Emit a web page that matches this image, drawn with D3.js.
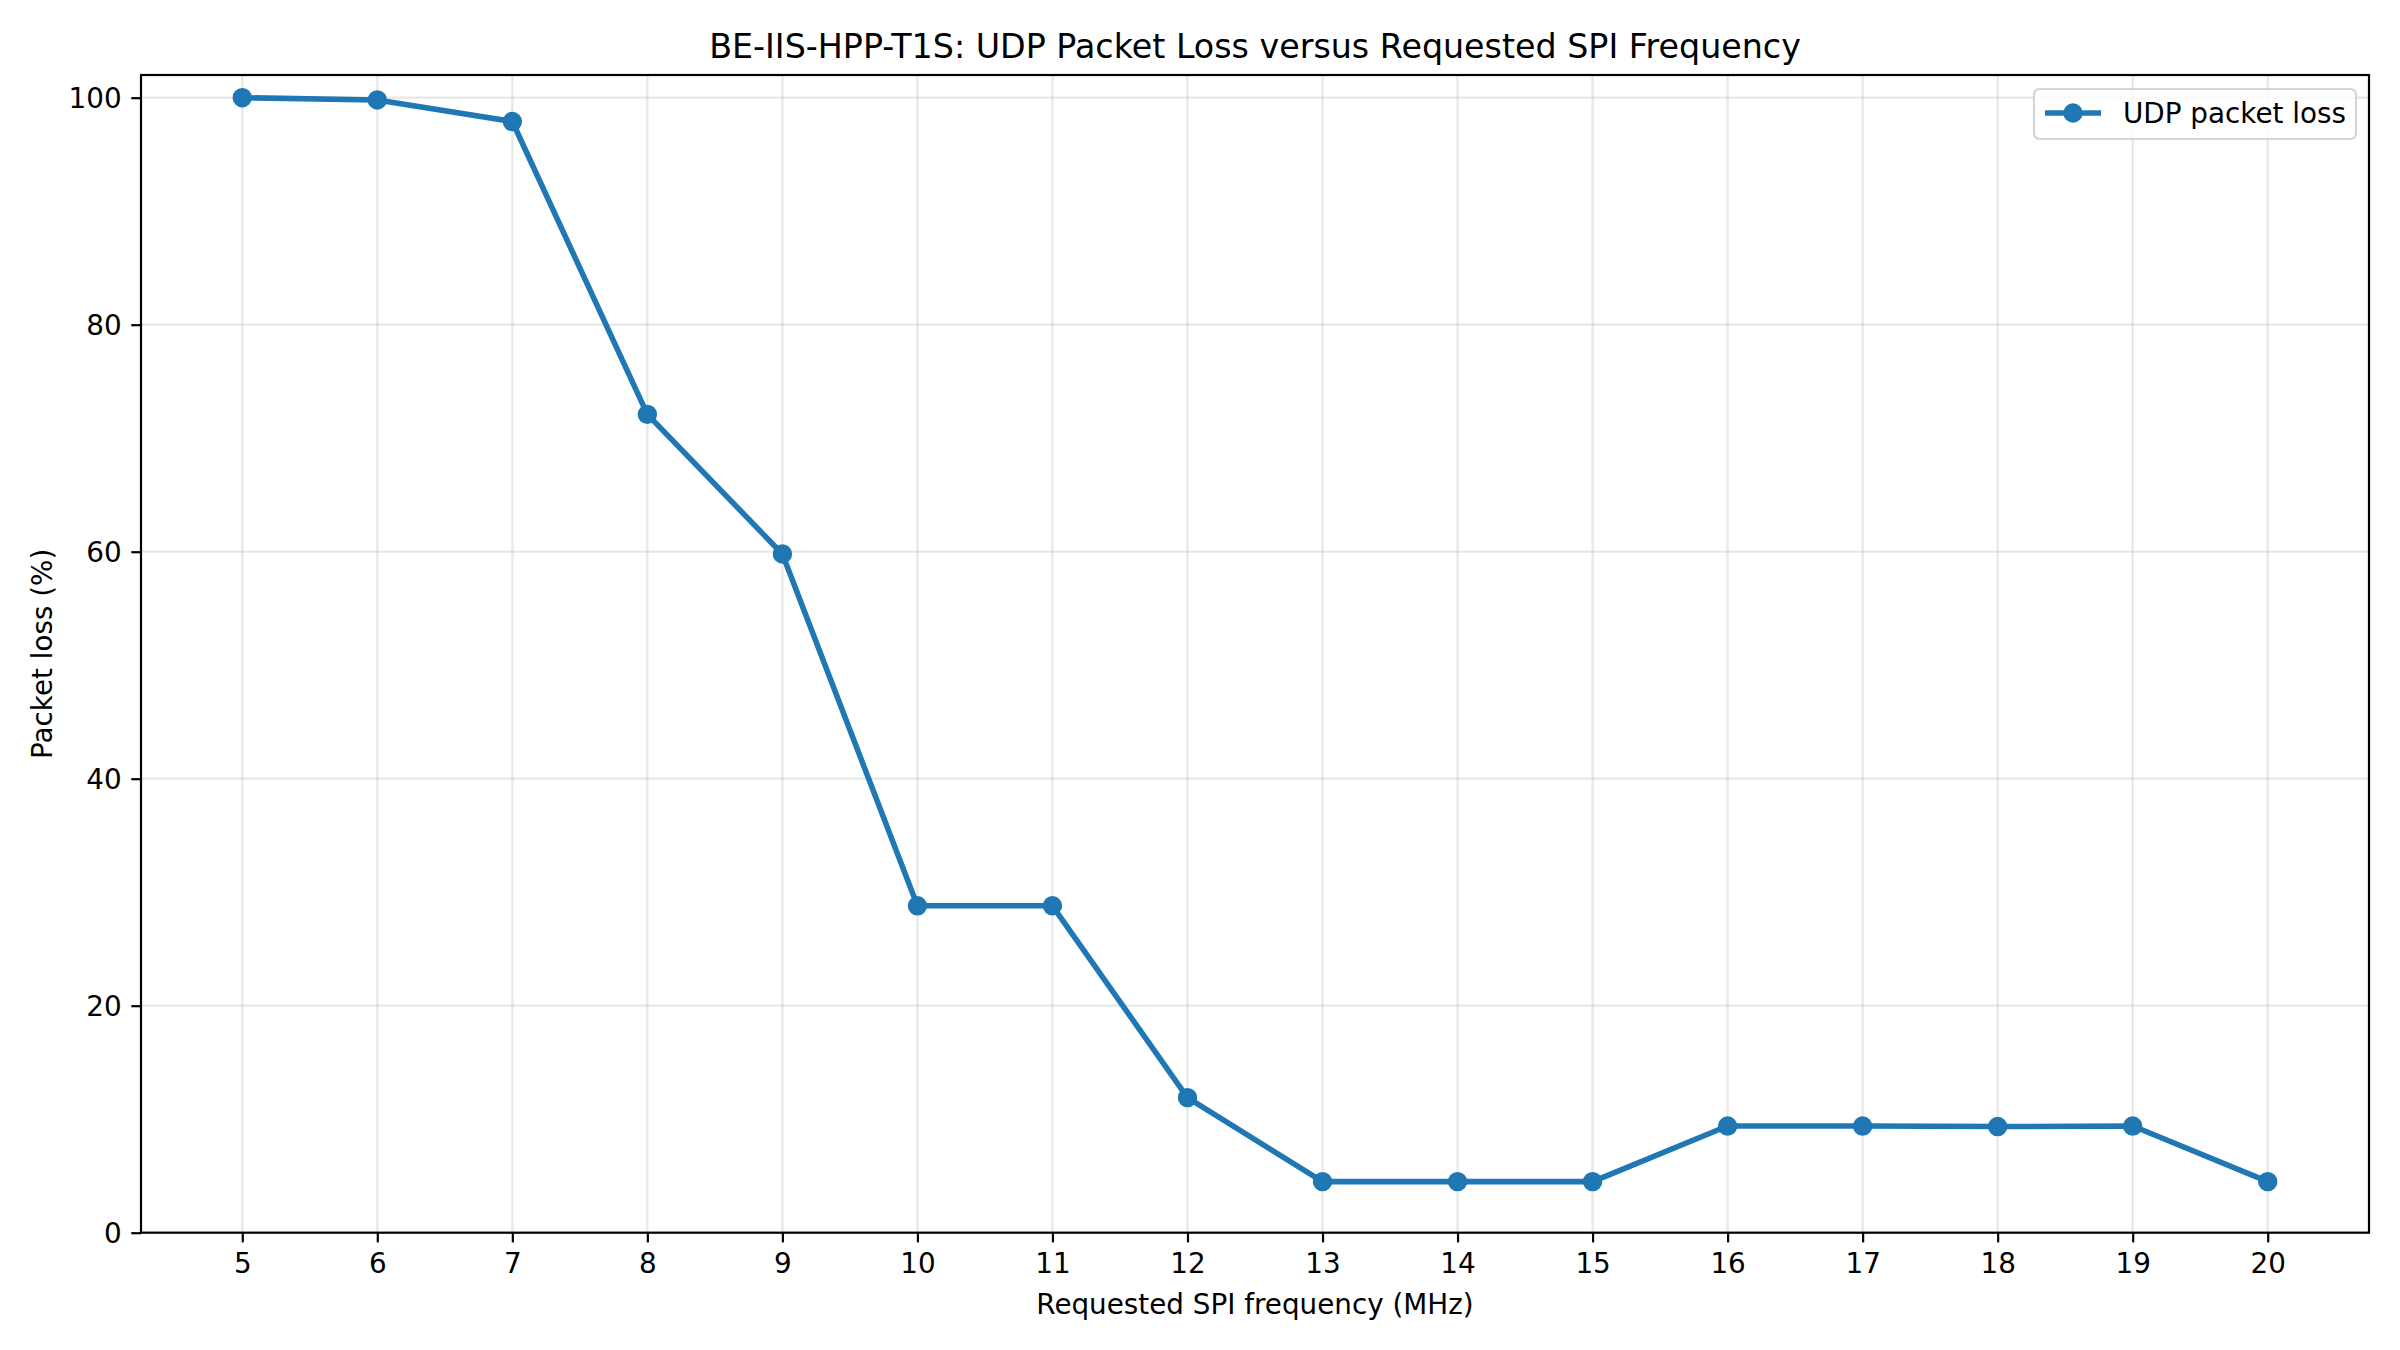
<!DOCTYPE html>
<html>
<head>
<meta charset="utf-8">
<script src="https://cdn.jsdelivr.net/npm/d3@7"></script>
<style>
  body { margin: 0; background: #fff; }
  svg { font-family: "DejaVu Sans", sans-serif; }
</style>
</head>
<body>
<svg></svg>
<script>

// Data
var freqs = [5, 6, 7, 8, 9, 10, 11, 12, 13, 14, 15, 16, 17, 18, 19, 20];
var loss = [100, 99.8, 97.9, 72.1, 59.8, 28.8, 28.8, 11.9, 4.5, 4.5, 4.5, 9.4, 9.4, 9.35, 9.4, 4.5];
var yTicks = [0, 20, 40, 60, 80, 100];
var seriesName = "UDP packet loss";

let width = 2400, height = 1350;
let svg = d3.select("svg")
    .attr("width", width)
    .attr("height", height)
    .attr("viewBox", "0 0 " + width + " " + height);

// plot area (names avoid window.top)
let pLeft = 141, pRight = 2369, pTop = 75, pBottom = 1232.7;
let blue = "#1f77b4";
let fs = 27.8;

var x = d3.scaleLinear().domain([4.25, 20.75]).range([pLeft, pRight]);
var y = d3.scaleLinear().domain([0, 102]).range([pBottom, pTop]);

var data = freqs.map((f, i) => ({ f: f, v: loss[i] }));

// grid
svg.append("g")
    .selectAll("line")
    .data(freqs)
    .enter()
    .append("line")
      .attr("x1", d => x(d)).attr("x2", d => x(d))
      .attr("y1", pTop).attr("y2", pBottom)
      .attr("stroke", "#b0b0b0").attr("stroke-opacity", 0.3)
      .attr("stroke-width", 2.2);

svg.append("g")
    .selectAll("line")
    .data(yTicks)
    .enter()
    .append("line")
      .attr("x1", pLeft).attr("x2", pRight)
      .attr("y1", d => y(d)).attr("y2", d => y(d))
      .attr("stroke", "#b0b0b0").attr("stroke-opacity", 0.3)
      .attr("stroke-width", 2.2);

// line + markers
let line = d3.line()
    .x(d => x(d.f))
    .y(d => y(d.v));

svg.append("path")
    .datum(data)
    .attr("d", line)
    .attr("fill", "none")
    .attr("stroke", blue)
    .attr("stroke-width", 5.56)
    .attr("stroke-linejoin", "round")
    .attr("stroke-linecap", "square");

svg.append("g")
    .selectAll("circle")
    .data(data)
    .enter()
    .append("circle")
      .attr("cx", d => x(d.f))
      .attr("cy", d => y(d.v))
      .attr("r", 8.33)
      .attr("fill", blue)
      .attr("stroke", blue)
      .attr("stroke-width", 2.78);

// axes
let xAxis = d3.axisBottom(x)
    .tickValues(freqs)
    .tickFormat(d3.format("d"))
    .tickSize(9.7)
    .tickPadding(9.7);

let yAxis = d3.axisLeft(y)
    .tickValues(yTicks)
    .tickFormat(d3.format("d"))
    .tickSize(9.7)
    .tickPadding(9.7);

let gx = svg.append("g")
    .attr("transform", "translate(0," + pBottom + ")")
    .call(xAxis);
let gy = svg.append("g")
    .attr("transform", "translate(" + pLeft + ",0)")
    .call(yAxis);

[gx, gy].forEach(g => {
  g.select(".domain").remove();
  g.selectAll(".tick line").attr("stroke", "#000").attr("stroke-width", 2.2);
  g.selectAll(".tick text")
    .attr("fill", "#000")
    .style("font-family", "DejaVu Sans")
    .style("font-size", fs + "px");
});
gx.selectAll(".tick text").attr("dy", "0.76em");
gy.selectAll(".tick text").attr("dy", "0.36em");

// spines
svg.append("rect")
    .attr("x", pLeft).attr("y", pTop)
    .attr("width", pRight - pLeft).attr("height", pBottom - pTop)
    .attr("fill", "none")
    .attr("stroke", "#000")
    .attr("stroke-width", 2.2);

// title and labels
svg.append("text")
    .attr("x", (pLeft + pRight) / 2)
    .attr("y", 58.3)
    .attr("text-anchor", "middle")
    .style("font-size", "33.3px")
    .text("BE-IIS-HPP-T1S: UDP Packet Loss versus Requested SPI Frequency");

svg.append("text")
    .attr("x", (pLeft + pRight) / 2)
    .attr("y", 1314)
    .attr("text-anchor", "middle")
    .style("font-size", fs + "px")
    .text("Requested SPI frequency (MHz)");

svg.append("text")
    .attr("transform", "translate(52," + ((pTop + pBottom) / 2) + ") rotate(-90)")
    .attr("text-anchor", "middle")
    .style("font-size", fs + "px")
    .text("Packet loss (%)");

// legend
let lg = svg.append("g");
lg.append("rect")
    .attr("x", 2034).attr("y", 89)
    .attr("width", 2356 - 2034).attr("height", 50)
    .attr("rx", 5.5)
    .attr("fill", "#fff").attr("fill-opacity", 0.8)
    .attr("stroke", "#cccccc").attr("stroke-opacity", 0.8)
    .attr("stroke-width", 2.2);
lg.append("line")
    .attr("x1", 2045).attr("x2", 2101)
    .attr("y1", 113).attr("y2", 113)
    .attr("stroke", blue).attr("stroke-width", 5.56);
lg.append("circle")
    .attr("cx", 2073).attr("cy", 113)
    .attr("r", 8.33)
    .attr("fill", blue).attr("stroke", blue).attr("stroke-width", 2.78);
lg.append("text")
    .attr("x", 2123).attr("y", 123)
    .style("font-size", fs + "px")
    .text(seriesName);

</script>
</body>
</html>
